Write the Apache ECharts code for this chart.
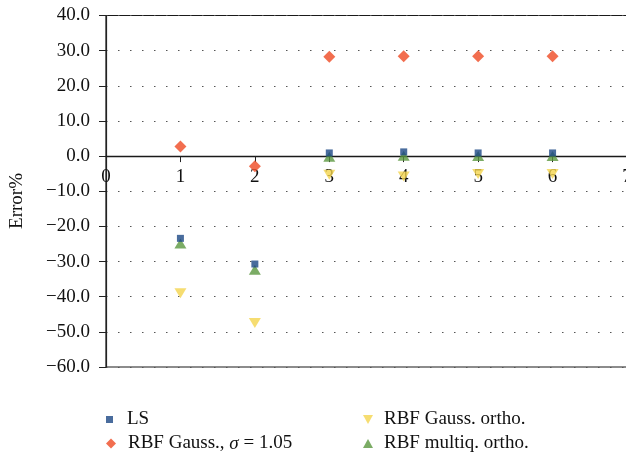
<!DOCTYPE html>
<html><head><meta charset="utf-8">
<script src="https://cdn.jsdelivr.net/npm/echarts@6/dist/echarts.min.js"></script>
<style>html,body{margin:0;padding:0;background:#fff}#c{width:626px;height:458px}</style>
</head><body><div id="c"></div>
<script>
const xValues = [1, 2, 3, 4, 5, 6];
const lsValues = [-23.4, -30.7, 0.9, 1.2, 0.9, 0.9];
const gaussValues = [2.7, -2.9, 28.3, 28.4, 28.4, 28.4];
const gaussOrthoValues = [-39.0, -47.5, -5.3, -5.8, -5.1, -5.1];
const multiqOrthoValues = [-24.9, -32.3, -0.2, 0.1, 0.0, 0.0];
const seriesNames = ['LS', 'RBF Gauss., σ = 1.05', 'RBF Gauss. ortho.', 'RBF multiq. ortho.'];
const yTitle = 'Error%';

const font = 'Liberation Serif';
const fs = 19;
const pair = v => xValues.map((x, i) => [x, v[i]]);
const downTri = 'path://M0,0 L10,0 L5,9 Z';
const chart = echarts.init(document.getElementById('c'), null, {renderer: 'canvas'});
const gridTop = 15.5, gridBottom = 91, H = 458;
const plotH = H - gridTop - gridBottom;
const zeroOffset = -(plotH * 60 / 100);
const mkLegend = (name, icon, left, top, w, h, gap) => ({
  orient: 'horizontal', left: left, top: top, itemWidth: w, itemHeight: h, itemGap: 0,
  data: [{name: name, icon: icon}], padding: 0,
  textStyle: {fontFamily: font, fontSize: fs, color: '#111', padding: [0, 0, 0, gap],
    rich: {i: {fontFamily: font, fontSize: fs, fontStyle: 'italic', color: '#111'}}},
  formatter: n => n.replace('σ', '{i|σ}')
});
chart.setOption({
  animation: false,
  backgroundColor: '#fff',
  grid: {left: 106, right: -1, top: gridTop, bottom: gridBottom, show: true, borderColor: '#1a1a1a', borderWidth: 1.2,
    outerBoundsMode: 'none', containLabel: false},
  xAxis: {
    type: 'value', min: 0, max: 7, interval: 1, position: 'bottom', offset: zeroOffset,
    axisLine: {onZero: false, lineStyle: {color: '#1a1a1a', width: 1.4}},
    axisTick: {show: true, length: 6, lineStyle: {color: '#222'}},
    axisLabel: {color: '#111', fontFamily: font, fontSize: fs, margin: 11, showMaxLabel: true, hideOverlap: false},
    splitLine: {show: false}
  },
  yAxis: {
    type: 'value', min: -60, max: 40, interval: 10,
    axisLine: {show: true, onZero: false, lineStyle: {color: '#222', width: 1.2}},
    axisTick: {show: true, length: 7, lineStyle: {color: '#222'}},
    axisLabel: {color: '#111', fontFamily: font, fontSize: fs, margin: 16,
      formatter: v => v.toFixed(1).replace('-', '\u2212')},
    splitLine: {show: true, lineStyle: {color: '#555', width: 1, type: [1.5, 10.5]}}
  },
  graphic: [{
    type: 'text', x: 17, y: 201, rotation: Math.PI / 2, originX: 0, originY: 0,
    style: {text: yTitle, font: fs + 'px "Liberation Serif"', fill: '#111', textAlign: 'center', textVerticalAlign: 'middle'}
  }],
  legend: [
    mkLegend(seriesNames[0], 'rect', 106, 410, 7, 7, 9),
    mkLegend(seriesNames[1], 'diamond', 106, 434, 10, 10, 7),
    mkLegend(seriesNames[2], downTri, 363, 410, 10, 9, 6),
    mkLegend(seriesNames[3], 'triangle', 363, 434, 10, 9, 6)
  ],
  series: [
    {name: seriesNames[2], type: 'scatter', data: pair(gaussOrthoValues), symbol: 'triangle', symbolRotate: 180,
     symbolSize: [12, 10], itemStyle: {color: '#f4d44d'}, z: 2},
    {name: seriesNames[3], type: 'scatter', data: pair(multiqOrthoValues), symbol: 'triangle',
     symbolSize: [12, 10], itemStyle: {color: '#5a973f'}, z: 3},
    {name: seriesNames[1], type: 'scatter', data: pair(gaussValues), symbol: 'diamond',
     symbolSize: [12, 12], itemStyle: {color: '#ef4a23'}, z: 4},
    {name: seriesNames[0], type: 'scatter', data: pair(lsValues), symbol: 'rect',
     symbolSize: [7, 7], itemStyle: {color: '#1b4784'}, z: 5}
  ]
});
</script>
</body></html>
